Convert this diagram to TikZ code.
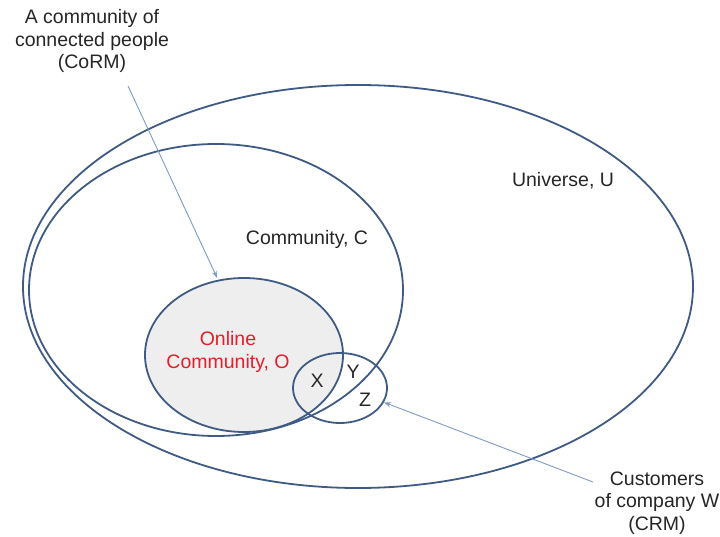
\documentclass[tikz,border=0pt]{standalone}
\usepackage{fontspec}
\setmainfont{Liberation Sans}
\usetikzlibrary{shapes.geometric,arrows.meta}
\definecolor{setline}{HTML}{3F5B85}
\definecolor{pointer}{HTML}{7D9CC8}
\definecolor{onlinefill}{HTML}{EEEEEE}
\definecolor{onlinered}{HTML}{E3202B}
\begin{document}
\begin{tikzpicture}[x=1pt,y=-1pt,
  setshape/.style={ellipse, draw=setline, line width=1.8pt, inner sep=0pt, outer sep=0pt},
  lbl/.style={font=\fontsize{19.5}{22.5}\selectfont, align=center, inner sep=0pt, text=black!85},
  pointerline/.style={draw=pointer, line width=0.9pt, -{Stealth[length=7pt,width=5pt]}}]
\useasboundingbox (0,0) rectangle (720,537);
\fill[white] (0,0) rectangle (720,537);

% nested sets
\node[setshape, minimum width=670pt, minimum height=403pt] (U) at (358,286.5) {};
\node[setshape, fill=onlinefill, minimum width=198pt, minimum height=154pt] (O) at (244,355) {};
\node[setshape, minimum width=374pt, minimum height=292pt] (C) at (216,290) {};
\node[setshape, minimum width=94pt, minimum height=70pt] (W) at (340,388) {};

% set labels
\node[lbl] (ulabel) at (563,181) {Universe, U};
\node[lbl] (clabel) at (307,239) {Community, C};
\node[lbl, text=onlinered] (olabel) at (228,352) {Online\\Community, O};
\node[lbl] (xlabel) at (317,381) {X};
\node[lbl] (ylabel) at (353,372) {Y};
\node[lbl] (zlabel) at (365,400) {Z};

% callouts
\node[lbl] (corm) at (92,41) {A community of\\connected people\\(CoRM)};
\node[lbl] (crm) at (657,503) {Customers\\of company W\\(CRM)};
\coordinate (cormfoot) at (128,86);
\coordinate (crmfoot) at (593,482);
\draw[pointerline, shorten >=3pt] (cormfoot) -- (O.109);
\draw[pointerline, shorten >=1pt] (crmfoot) -- (W.-18);
\end{tikzpicture}
\end{document}
